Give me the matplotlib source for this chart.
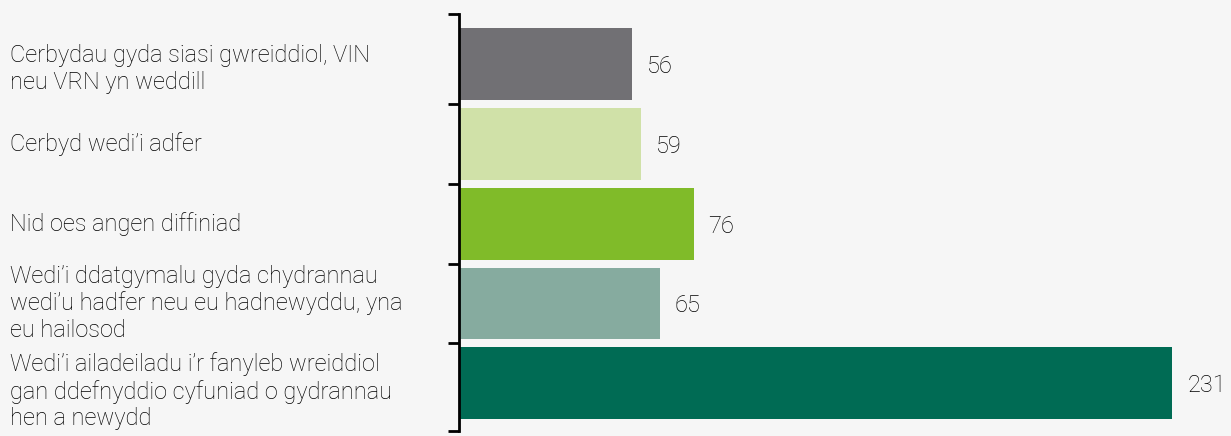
import matplotlib
matplotlib.use("Agg")
import matplotlib.pyplot as plt
import matplotlib.transforms as mtransforms
import numpy as np

labels = ["Cerbydau gyda siasi gwreiddiol, VIN\nneu VRN yn weddill",
          "Cerbyd wedi\u2019i adfer",
          "Nid oes angen diffiniad",
          "Wedi\u2019i ddatgymalu gyda chydrannau\nwedi\u2019u hadfer neu eu hadnewyddu, yna\neu hailosod",
          "Wedi\u2019i ailadeiladu i\u2019r fanyleb wreiddiol\ngan ddefnyddio cyfuniad o gydrannau\nhen a newydd"]
values = [56, 59, 76, 65, 231]
colors = ["#717074", "#d0e1a8", "#80bb29", "#86ab9f", "#006b54"]

plt.rcParams['font.family'] = ['Roboto', 'Liberation Sans', 'DejaVu Sans']
plt.rcParams['font.weight'] = 'light'
bg = "#f6f6f6"
txt = "#000000"
fs = 17
fig = plt.figure(figsize=(12.31, 4.36), dpi=100, facecolor=bg)
ax = fig.add_axes([459 / 1231, 5 / 436, 1 - 459 / 1231, 417 / 436], facecolor=bg)

y = np.arange(len(values))
ax.barh(y, values, height=0.9, color=colors)
y_top, y_bot = -0.63, len(values) - 0.4
ax.set_ylim(y_bot, y_top)
ax.set_xlim(0, 250)

for yi, v in zip(y, values):
    ax.text(v + 4.8, yi + 0.03, str(v), va='center', ha='left', fontsize=fs, color=txt)

# the first and last labels sit a little below their bar centre in the original
nudge = {0: 0.06, len(values) - 1: 0.1}
lab_tr = mtransforms.blended_transform_factory(fig.transFigure, ax.transData)
for yi, lab in zip(y, labels):
    ax.text(10 / 1231, yi + nudge.get(yi, 0), lab, transform=lab_tr,
            va='center', ha='left', fontsize=fs, color=txt, linespacing=1.17)

for s in ['top', 'right', 'bottom']:
    ax.spines[s].set_visible(False)
ax.spines['left'].set_linewidth(2)
ax.spines['left'].set_color('black')
ax.set_xticks([])
ax.set_yticks([y_top] + list(np.arange(0.5, len(values) - 1, 1.0)) + [y_bot])
ax.set_yticklabels([])
ax.tick_params(axis='y', length=8, width=2, color='black', direction='out')

fig.savefig("out.png", dpi=100, facecolor=bg)
